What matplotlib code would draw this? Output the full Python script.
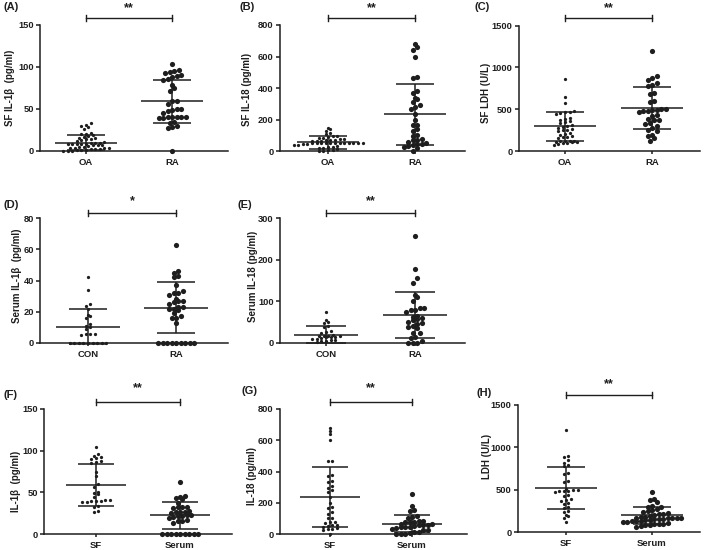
import numpy as np
import matplotlib
matplotlib.use("Agg")
import matplotlib.pyplot as plt
from matplotlib.transforms import blended_transform_factory

plt.rcParams['font.family'] = ['Liberation Sans', 'DejaVu Sans']
plt.rcParams['font.weight'] = 'bold'

# ---------------- data ----------------
sf_il1b_oa = [33, 31, 30, 28, 26, 22, 20, 20, 19, 18, 17, 16, 15, 14, 14, 13, 12, 11, 10, 10,
              9, 8, 8, 8, 8, 8, 7, 7, 7, 6, 5, 5, 4, 4, 3, 3, 2, 2, 2, 1, 1, 1, 0, 0, 0]
sf_il1b_ra = [104, 97, 95, 94, 93, 90, 89, 88, 86, 85, 78, 75, 71, 60, 59, 56, 50, 50, 49, 48,
              45, 41, 41, 40, 40, 40, 39, 39, 34, 33, 30, 28, 27, 0]
sf_il1b_ra_f = [104, 96, 94, 93, 91, 90, 88, 86, 85, 75, 70, 60, 57, 50, 49, 48, 45, 41, 41, 40,
                40, 40, 39, 39, 34, 33, 28, 27]

sf_il18_oa = [150, 140, 130, 120, 110, 100, 95, 92, 88, 85, 80, 78, 75, 72, 70, 68, 66, 64, 55, 55,
              54, 54, 53, 53, 53, 52, 52, 52, 51, 51, 50, 45, 40, 38, 35, 30, 28, 25, 20,
              15, 12, 10, 5, 2]
sf_il18_ra = [680, 660, 640, 600, 470, 465, 380, 370, 340, 330, 310, 295, 280, 270, 240, 200, 170,
              165, 140, 130, 105, 100, 80, 75, 70, 60, 55, 50, 45, 40, 35, 30, 25, 0]

sf_ldh_oa = [860, 650, 580, 480, 470, 470, 460, 450, 400, 390, 380, 360, 350, 340, 310, 300, 295,
             280, 270, 260, 250, 240, 220, 210, 200, 180, 175, 170, 160, 130, 125, 120, 120, 115,
             110, 110, 105, 100, 90, 80]
sf_ldh_ra = [1200, 900, 880, 850, 820, 790, 780, 700, 690, 600, 590, 510, 500, 495, 490, 485, 480,
             470, 440, 420, 390, 380, 370, 340, 330, 300, 280, 250, 240, 200, 190, 160, 120]

serum_il1b_con = [42, 34, 25, 24, 22, 18, 17, 16, 12, 11, 10, 9, 6, 6, 6, 5, 0, 0, 0, 0, 0, 0, 0, 0, 0]
serum_il1b_ra = [63, 46, 45, 43, 42, 37, 33, 32, 32, 31, 28, 27, 27, 26, 25, 23, 23, 22, 22, 21, 19,
                 17, 16, 16, 13, 0, 0, 0, 0, 0, 0, 0, 0, 0]

serum_il18_con = [75, 55, 50, 48, 42, 38, 30, 27, 25, 20, 18, 18, 17, 16, 15, 15, 14, 12, 10, 10, 8,
                  8, 6, 5, 3]
serum_il18_ra = [258, 178, 155, 145, 115, 110, 100, 85, 83, 80, 80, 75, 65, 63, 60, 58, 56, 50, 48,
                 45, 42, 38, 35, 25, 23, 15, 12, 5, 0, 0, 0]

serum_ldh_ra = [470, 390, 380, 350, 310, 300, 290, 270, 260, 250, 240, 220, 215, 210, 200, 190, 180,
                175, 170, 168, 165, 162, 160, 158, 155, 150, 145, 140, 135, 130, 125, 120, 115, 110,
                100, 95, 90, 85, 80, 70, 60]

# mean and SD
means = {'A': [10, 59], 'B': [57, 236], 'C': [298, 520], 'D': [10.3, 22.7],
         'E': [20, 68], 'F': [59, 22.7], 'G': [234, 66], 'H': [521, 197]}
sds = {'A': [9, 25.5], 'B': [41, 193], 'C': [170, 250], 'D': [11.2, 16.3],
       'E': [20, 55], 'F': [25.5, 16.3], 'G': [192, 56], 'H': [250, 99]}

cats_oa = ['OA', 'RA']
cats_con = ['CON', 'RA']
cats_sf = ['SF', 'Serum']

ylabels = {'A': 'SF IL-1\u03b2  (pg/ml)', 'B': 'SF IL-18 (pg/ml)', 'C': 'SF LDH (U/L)',
           'D': 'Serum IL-1\u03b2  (pg/ml)', 'E': 'Serum IL-18 (pg/ml)',
           'F': 'IL-1\u03b2  (pg/ml)', 'G': 'IL-18 (pg/ml)', 'H': 'LDH (U/L)'}
stars = {'A': '**', 'B': '**', 'C': '**', 'D': '*', 'E': '**', 'F': '**', 'G': '**', 'H': '**'}
ymax = {'A': 150, 'B': 800, 'C': 1500, 'D': 80, 'E': 300, 'F': 150, 'G': 800, 'H': 1500}
ystep = {'A': 50, 'B': 200, 'C': 500, 'D': 20, 'E': 100, 'F': 50, 'G': 200, 'H': 500}

# ---------------- layout (pixels) ----------------
W, H = 709, 550
INK = '#1e1e1e'
layout = {
    'A': (40, 25, 228, 151, 86, 172),
    'B': (280, 25, 465, 151.5, 328, 415),
    'C': (519, 25.5, 700, 151.5, 565, 652),
    'D': (40, 218, 228, 343, 88, 176),
    'E': (280, 218, 465, 343, 326, 415),
    'F': (44, 409, 232, 534, 96, 180),
    'G': (280, 409, 467, 534, 330, 412),
    'H': (518, 405, 700, 532, 566, 652),
}
sig = {'A': (18, 8), 'B': (18, 8), 'C': (18, 8), 'D': (213, 201), 'E': (213, 201),
       'F': (402, 388), 'G': (402, 388), 'H': (395, 384)}
ylab_pos = {'A': (10, 88), 'B': (247, 89), 'C': (486, 93), 'D': (17, 276), 'E': (253, 276),
            'F': (16, 481), 'G': (252, 476), 'H': (487, 456)}
plab_pos = {'A': (3, 7), 'B': (240, 7), 'C': (475, 7), 'D': (3, 205), 'E': (238, 205),
            'F': (4, 395), 'G': (241, 391), 'H': (477, 393)}

groups = {
    'A': ([sf_il1b_oa, sf_il1b_ra], ['s', 'l'], cats_oa),
    'B': ([sf_il18_oa, sf_il18_ra], ['s', 'l'], cats_oa),
    'C': ([sf_ldh_oa, sf_ldh_ra], ['s', 'l'], cats_oa),
    'D': ([serum_il1b_con, serum_il1b_ra], ['s', 'l'], cats_con),
    'E': ([serum_il18_con, serum_il18_ra], ['s', 'l'], cats_con),
    'F': ([sf_il1b_ra_f, serum_il1b_ra], ['s', 'l'], cats_sf),
    'G': ([sf_il18_ra, serum_il18_ra], ['s', 'l'], cats_sf),
    'H': ([sf_ldh_ra, serum_ldh_ra], ['s', 'l'], cats_sf),
}

marker = {'s': dict(size=5.5, diam=2.7, dx=4.6), 'l': dict(size=14.0, diam=4.6, dx=4.5)}


def swarm_offsets(vals, ax_h_px, yr, diam_px, dx_units):
    vals = np.asarray(vals, float)
    binh = diam_px * yr / ax_h_px
    order = np.argsort(vals)
    offs = np.zeros(len(vals))
    group = []
    start = None

    def flush(g):
        n = len(g)
        for k, idx in enumerate(g):
            offs[idx] = (k - (n - 1) / 2.0) * dx_units

    for idx in order:
        v = vals[idx]
        if start is None or v - start >= binh:
            if group:
                flush(group)
            group = [idx]
            start = v
        else:
            group.append(idx)
    if group:
        flush(group)
    return offs


fig = plt.figure(figsize=(W / 100, H / 100), dpi=100)
fig.patch.set_facecolor('white')

for key in 'ABCDEFGH':
    L, T, R, B, c0, c1 = layout[key]
    ax = fig.add_axes([L / W, 1 - B / H, (R - L) / W, (B - T) / H])
    sp = c1 - c0
    ax.set_xlim((L - c0) / sp, 1 + (R - c1) / sp)
    ax.set_ylim(0, ymax[key])
    ax_h = B - T
    for s in ['top', 'right']:
        ax.spines[s].set_visible(False)
    for s in ['left', 'bottom']:
        ax.spines[s].set_linewidth(1.1)
        ax.spines[s].set_color(INK)

    vals_list, kinds, cats = groups[key]
    for i, (vals, kd) in enumerate(zip(vals_list, kinds)):
        m = marker[kd]
        off = swarm_offsets(vals, ax_h, ymax[key], m['diam'], m['dx'] / sp)
        ax.scatter(i + off, vals, s=m['size'], color=INK, linewidths=0, clip_on=False, zorder=3)
        mu = means[key][i]
        sd = sds[key][i]
        kw = dict(color=INK, lw=1.1, solid_capstyle='butt', clip_on=False, zorder=4)
        ax.plot([i - 0.36, i + 0.36], [mu, mu], **kw)
        ax.plot([i - 0.22, i + 0.22], [mu + sd, mu + sd], **kw)
        ax.plot([i - 0.22, i + 0.22], [mu - sd, mu - sd], **kw)
        ax.plot([i, i], [mu - sd, mu + sd], **kw)

    ax.set_yticks(np.arange(0, ymax[key] + 1, ystep[key]))
    ax.set_xticks([0, 1])
    ax.set_xticklabels(cats, fontsize=6.8, fontweight='bold', color=INK)
    ax.tick_params(axis='y', direction='out', length=3, width=1.1, labelsize=6.7, pad=1.5,
                   colors=INK)
    ax.tick_params(axis='x', direction='out', length=2.5, width=1.1, pad=2.5, colors=INK)
    for lab in ax.get_yticklabels():
        lab.set_fontweight('bold')

    trans = blended_transform_factory(ax.transData, ax.transAxes)
    yb = 1 + (T - sig[key][0]) / ax_h
    ys = 1 + (T - sig[key][1]) / ax_h
    d = 3.2 / ax_h
    ax.plot([0, 1], [yb, yb], color=INK, lw=1.0, transform=trans, clip_on=False)
    ax.plot([0, 0], [yb - d, yb + d], color=INK, lw=1.0, transform=trans, clip_on=False)
    ax.plot([1, 1], [yb - d, yb + d], color=INK, lw=1.0, transform=trans, clip_on=False)
    ax.text(0.5, ys, stars[key], transform=trans, ha='center', va='center', fontsize=9,
            fontweight='bold', color=INK)

    lx, ly = ylab_pos[key]
    fig.text(lx / W, 1 - ly / H, ylabels[key], rotation=90, ha='center', va='center',
             fontsize=7, fontweight='bold', color=INK)
    px, py = plab_pos[key]
    fig.text(px / W, 1 - py / H, '(' + key + ')', ha='left', va='center', fontsize=8,
             fontweight='bold', color=INK)

fig.savefig('out.png', dpi=100, facecolor='white')
